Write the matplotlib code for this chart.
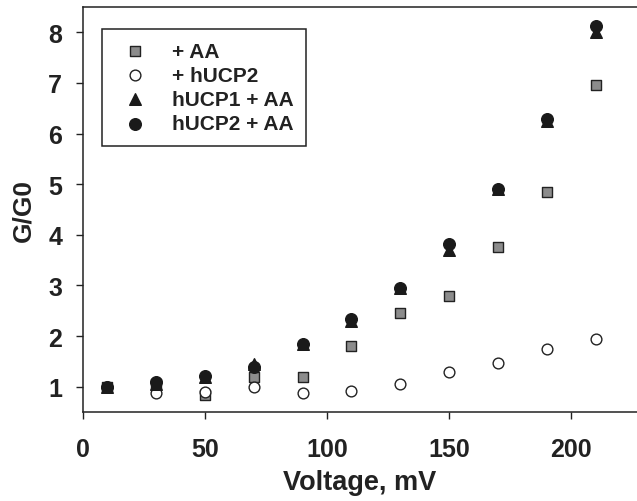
import matplotlib.pyplot as plt

plt.rcParams['font.family'] = ['Liberation Sans', 'DejaVu Sans']
plt.rcParams['font.weight'] = 'bold'

# Data
voltage = [10, 30, 50, 70, 90, 110, 130, 150, 170, 190, 210]
aa = [1.0, 1.05, 0.83, 1.2, 1.2, 1.8, 2.45, 2.8, 3.75, 4.85, 6.95]
hucp2 = [1.0, 0.88, 0.9, 1.0, 0.88, 0.92, 1.05, 1.3, 1.47, 1.75, 1.95]
hucp1_aa = [1.0, 1.05, 1.2, 1.45, 1.85, 2.3, 2.95, 3.7, 4.9, 6.25, 8.0]
hucp2_aa = [1.0, 1.1, 1.22, 1.38, 1.85, 2.33, 2.95, 3.82, 4.9, 6.28, 8.12]

fig = plt.figure(figsize=(6.37, 5.02), dpi=100)
ax = fig.add_axes([83 / 637, 89 / 502, 554 / 637, 405 / 502])

ax.scatter(voltage, aa, marker='s', s=50, facecolor='#8c8c8c', edgecolor='#222222', linewidths=1.0, label='+ AA', zorder=3)
ax.scatter(voltage, hucp2, marker='o', s=60, facecolor='white', edgecolor='#222222', linewidths=1.0, label='+ hUCP2', zorder=3)
ax.scatter(voltage, hucp1_aa, marker='^', s=70, facecolor='#1a1a1a', edgecolor='#1a1a1a', label='hUCP1 + AA', zorder=4)
ax.scatter(voltage, hucp2_aa, marker='o', s=70, facecolor='#1a1a1a', edgecolor='#1a1a1a', label='hUCP2 + AA', zorder=5)

ax.set_xlim(0, 227)
ax.set_ylim(0.5, 8.5)
ax.set_xticks([0, 50, 100, 150, 200])
ax.set_yticks(range(1, 9))
ax.tick_params(direction='out', length=5, width=1, labelsize=18, colors='#222222')
ax.tick_params(axis='x', pad=13)
ax.tick_params(axis='y', pad=10)
for lab in ax.get_xticklabels() + ax.get_yticklabels():
    lab.set_fontweight('bold')
for sp in ax.spines.values():
    sp.set_linewidth(1.1)
    sp.set_color('#222222')
ax.spines['right'].set_visible(False)

ax.set_xlabel('Voltage, mV', fontsize=19.5, fontweight='bold', labelpad=6, color='#222222')
ax.set_ylabel('G/G0', fontsize=19, fontweight='bold', labelpad=9, color='#222222')

leg = ax.legend(loc='upper left', bbox_to_anchor=(19 / 554, 383 / 405), fontsize=15, frameon=True,
                fancybox=False, edgecolor='#222222', handletextpad=0.75, borderpad=0.6,
                labelspacing=0.25, handlelength=2.0, borderaxespad=0, framealpha=1)
leg.get_frame().set_linewidth(1.1)
for t in leg.get_texts():
    t.set_fontweight('bold')
    t.set_color('#222222')

fig.savefig('out.png', dpi=100)
